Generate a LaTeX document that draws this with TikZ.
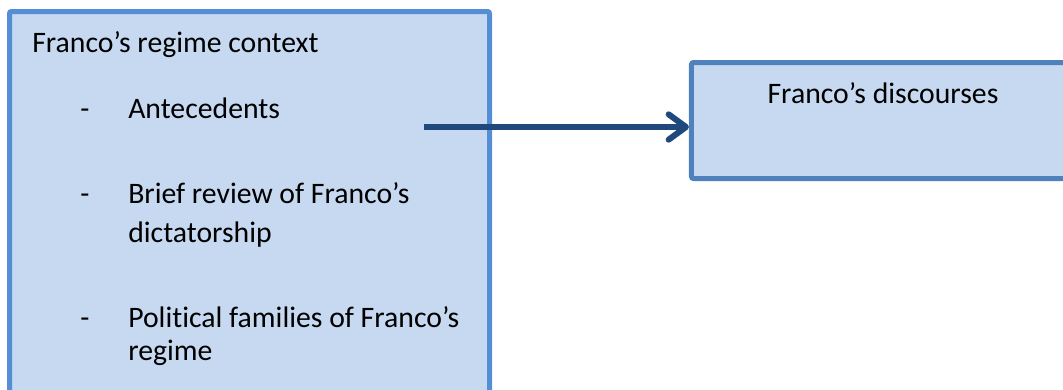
\documentclass[tikz,border=0pt]{standalone}
\usepackage{fontspec}
\setmainfont{Carlito}[Ligatures={TeX,NoCommon}]
\usetikzlibrary{arrows.meta,positioning}
\definecolor{paleblue}{HTML}{C6D9F1}
\definecolor{midblue}{HTML}{558ED5}
\definecolor{steel}{HTML}{4F81BD}
\definecolor{navy}{HTML}{1F497D}
\tikzset{panel/.style={draw=midblue,fill=paleblue,line width=3.75pt,rounded corners=1.5pt,inner sep=0pt}, target/.style={panel,draw=steel}, txt/.style={anchor=base west,inner sep=0pt,font=\fontsize{22.3}{27}\selectfont}, flow/.style={-{Straight Barb[length=13pt,width=19pt,round]},line width=4.5pt,draw=navy}}

\begin{document}
\begin{tikzpicture}[x=0.75pt,y=-0.75pt]
\useasboundingbox (0,0) rectangle (1063,389);
\clip (0,0) rectangle (1063,389);
% both boxes run off the page edge
\node[panel,minimum width=360pt,minimum height=315pt] (ctx) at (249.5,221.5) {};
\node[target,minimum width=306.4pt,minimum height=87pt] (disc) at (895.75,120.5) {};
\node[txt] (head) at (32,52) {Franco’s regime context};
\node[txt] (d1) at (80,118) {-};
\node[txt] (i1) at (128,118) {Antecedents};
\node[txt] (d2) at (80,203) {-};
\node[txt] (i2) at (128,203) {Brief review of Franco’s};
\node[txt] (i2b) at (128,242) {dictatorship};
\node[txt] (d3) at (80,327) {-};
\node[txt] (i3) at (128,327) {Political families of Franco’s};
\node[txt] (i3b) at (128,360) {regime};
\node[txt,anchor=base] (dtxt) at (883,103) {Franco’s discourses};
\coordinate (from) at (424,127);
\draw[flow] (from) -- (from -| disc.west);
\end{tikzpicture}
\end{document}
